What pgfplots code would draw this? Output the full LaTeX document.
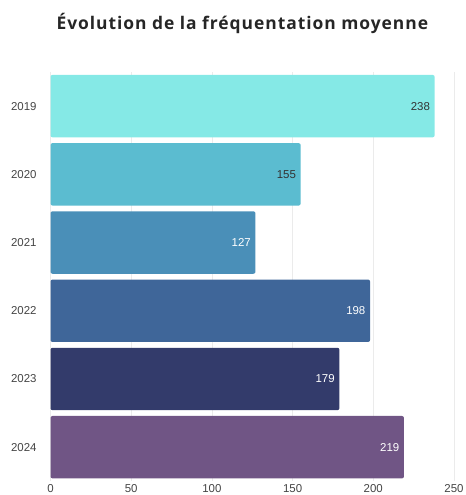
\documentclass[border=0pt]{standalone}
\usepackage{pgfplots}
\pgfplotsset{compat=1.18}
\usepackage{fontspec}
\setmainfont{Liberation Sans}
\newfontfamily\titlefont[LetterSpace=5.5]{Open Sans}
\definecolor{c19}{RGB}{133,233,230}
\definecolor{c20}{RGB}{91,188,208}
\definecolor{c21}{RGB}{74,143,184}
\definecolor{c22}{RGB}{63,102,153}
\definecolor{c23}{RGB}{51,59,107}
\definecolor{c24}{RGB}{112,85,133}
\definecolor{tick}{RGB}{68,68,68}
\definecolor{gridc}{RGB}{235,235,235}
\begin{document}
\begin{tikzpicture}
\begin{axis}[
  scale only axis,
  width=403.5bp, height=409.3bp,
  xbar, bar width=0.915, bar shift=0pt,
  xmin=0, xmax=250,
  ymin=-0.5, ymax=5.5,
  y dir=reverse,
  ytick={0,1,2,3,4,5},
  yticklabels={2019,2020,2021,2022,2023,2024},
  xtick={0,50,100,150,200,250},
  xmajorgrids, major grid style={draw=gridc, line width=0.8pt},
  axis line style={draw=none},
  tick style={draw=none},
  /pgf/number format/assume math mode=true,
  tick label style={font=\fontsize{11.5}{13}\selectfont, text=tick, inner sep=0pt},
  yticklabel style={anchor=east, xshift=-9.5bp},
  xticklabel style={anchor=north, yshift=-3bp},
  nodes near coords,
  nodes near coords style={anchor=east, xshift=-4.5bp, font=\fontsize{11.5}{13}\selectfont, inner sep=0pt},
  every axis plot/.append style={draw=none, rounded corners=2bp},
  clip=false,
]
\addplot[fill=c19, nodes near coords style={text=black!80}] coordinates {(238,0)};
\addplot[fill=c20, nodes near coords style={text=black!80}] coordinates {(155,1)};
\addplot[fill=c21, nodes near coords style={text=white}] coordinates {(127,2)};
\addplot[fill=c22, nodes near coords style={text=white}] coordinates {(198,3)};
\addplot[fill=c23, nodes near coords style={text=white}] coordinates {(179,4)};
\addplot[fill=c24, nodes near coords style={text=white}] coordinates {(219,5)};
\node[font=\titlefont\bfseries\fontsize{17.5}{21}\selectfont, text=black!85] at ([yshift=49bp]rel axis cs:0.4755,1) {Évolution de la fréquentation moyenne};
\end{axis}
\path ([xshift=-50.5bp,yshift=-13.7bp]current axis.south west) rectangle ([xshift=12bp,yshift=72bp]current axis.north east);
\end{tikzpicture}
\end{document}
